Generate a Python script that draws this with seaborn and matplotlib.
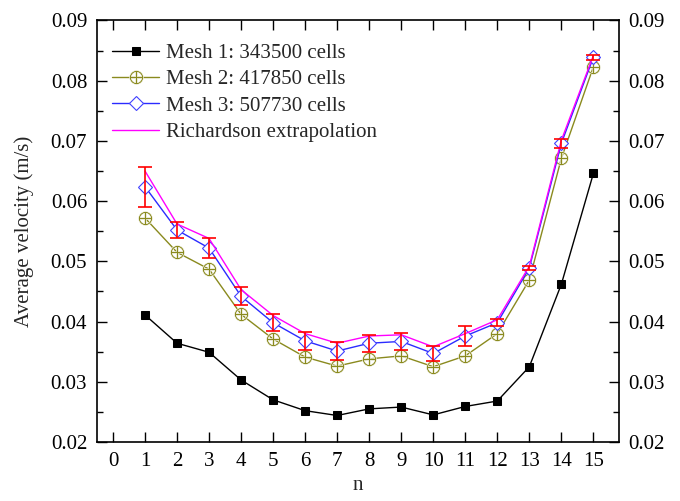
import numpy as np
import pandas as pd
import seaborn as sns
import matplotlib.pyplot as plt
from matplotlib.ticker import MultipleLocator

# values
n = list(range(1, 16))
mesh1 = [0.0411, 0.0364, 0.0349, 0.0303, 0.0270, 0.0252, 0.0244, 0.0255, 0.0258,
         0.0245, 0.0259, 0.0268, 0.0325, 0.0462, 0.0646]
mesh2 = [0.0572, 0.0515, 0.0487, 0.0412, 0.0371, 0.0341, 0.0326, 0.0338, 0.0343,
         0.0325, 0.0343, 0.0380, 0.0469, 0.0671, 0.0823]
mesh3 = [0.0624, 0.0552, 0.0522, 0.0442, 0.0398, 0.0368, 0.0351, 0.0364, 0.0367,
         0.0347, 0.0376, 0.0398, 0.0489, 0.0696, 0.0839]
richardson = [0.0650, 0.0562, 0.0538, 0.0453, 0.0410, 0.0380, 0.0364, 0.0376, 0.0378,
              0.0358, 0.0380, 0.0403, 0.0492, 0.0701, 0.0842]
err = [0.0033, 0.0014, 0.0017, 0.0015, 0.0014, 0.0015, 0.0015, 0.0014, 0.0014,
       0.0012, 0.0016, 0.0006, 0.0004, 0.0007, 0.0004]

labels = ['Mesh 1: 343500 cells', 'Mesh 2: 417850 cells',
          'Mesh 3: 507730 cells', 'Richardson extrapolation']

df = pd.DataFrame({'n': n, 'mesh1': mesh1, 'mesh2': mesh2,
                   'mesh3': mesh3, 'rich': richardson, 'err': err})

sns.set_style('ticks')
plt.rcParams['font.family'] = ['Liberation Serif', 'DejaVu Serif']
plt.rcParams['mathtext.fontset'] = 'dejavuserif'

fig = plt.figure(figsize=(6.8, 5.01), dpi=100)
ax = fig.add_axes([0.1426, 0.1178, 0.7677, 0.8413])

sns.lineplot(data=df, x='n', y='mesh1', ax=ax, color='black', lw=1,
             marker='s', markersize=6, markeredgecolor='black', label=labels[0])
sns.lineplot(data=df, x='n', y='mesh2', ax=ax, color='#8a8a1e', lw=1,
             marker=r'$\oplus$', markersize=10, markeredgewidth=0.4,
             label=labels[1])
sns.lineplot(data=df, x='n', y='mesh3', ax=ax, color='#2b2bff', lw=1,
             marker='D', markersize=7.5, markerfacecolor='white',
             markeredgecolor='#4040ff', markeredgewidth=0.8, label=labels[2], zorder=3)
sns.lineplot(data=df, x='n', y='rich', ax=ax, color='#ff00ff', lw=1,
             label=labels[3], zorder=4)
ax.errorbar(df['n'], df['mesh3'], yerr=df['err'], fmt='none', ecolor='red',
            elinewidth=1.2, capsize=5, capthick=1.2, zorder=5)

ax.set_xlim(-0.5, 15.8)
ax.set_ylim(0.02, 0.09)
ax.xaxis.set_major_locator(MultipleLocator(1))
ax.yaxis.set_major_locator(MultipleLocator(0.01))
ax.yaxis.set_minor_locator(MultipleLocator(0.005))
ax.yaxis.set_major_formatter(plt.FormatStrFormatter('%.2f'))

ax.tick_params(which='both', direction='in', top=True, right=True,
               labelright=True, labelsize=15, width=1, pad=7, colors='black')
ax.tick_params(which='major', length=7)
ax.tick_params(which='minor', length=4)
ax.tick_params(axis='x', which='minor', top=False, bottom=False)
for s in ax.spines.values():
    s.set_linewidth(1.2)
    s.set_color('black')

ax.set_xlabel('n', fontsize=15, labelpad=4)
ax.set_ylabel('Average velocity (m/s)', fontsize=15, labelpad=12)

ax.legend(loc='upper left', bbox_to_anchor=(0.0, 0.98), frameon=False,
          fontsize=15, handlelength=2.3, handletextpad=0.3, labelspacing=0.32,
          borderaxespad=0.3, numpoints=1)

fig.savefig('out.png', dpi=100)
